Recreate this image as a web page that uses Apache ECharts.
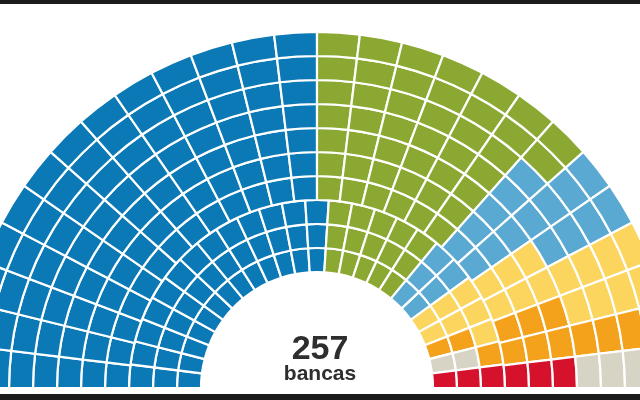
<!DOCTYPE html>
<html>
<head>
<meta charset="utf-8">
<script src="https://cdn.jsdelivr.net/npm/echarts@6/dist/echarts.min.js"></script>
<style>
html,body{margin:0;padding:0;background:#fff;}
#chart{width:640px;height:400px;}
</style>
</head>
<body>
<div id="chart"></div>
<script>
// Parties in seat order (left to right along each row)
const parties = ['Azul', 'Verde', 'Celeste', 'Amarillo', 'Naranja', 'Gris', 'Rojo'];
const partyColors = ['#0a79b6', '#8ba932', '#5aa9d3', '#fbd55e', '#f4a21c', '#d8d4c5', '#d6112c'];
// seats in each row, inner row first
const rowSeats = [25, 25, 25, 26, 26, 26, 26, 26, 26, 26];
// seats per party in each row (same order as parties), inner row first
const seatsByRow = [
  [13, 5, 2, 2, 1, 1, 1],
  [13, 5, 2, 2, 1, 1, 1],
  [13, 5, 2, 3, 1, 0, 1],
  [13, 6, 2, 2, 2, 0, 1],
  [13, 6, 2, 2, 2, 0, 1],
  [13, 6, 2, 2, 2, 0, 1],
  [13, 6, 3, 2, 1, 1, 0],
  [13, 6, 3, 2, 1, 1, 0],
  [13, 7, 2, 2, 1, 1, 0],
  [13, 7, 2, 2, 1, 1, 0]
];
const totalLabel = '257';
const unitLabel = 'bancas';

// Build seat data: [row, angleStart, angleEnd, partyIndex]
const seatData = [];
seatsByRow.forEach(function (counts, row) {
  const n = rowSeats[row];
  const step = 180 / n;
  let j = 0;
  counts.forEach(function (c, p) {
    for (let k = 0; k < c; k++) {
      seatData.push([row, j * step, (j + 1) * step, p]);
      j++;
    }
  });
});

const chart = echarts.init(document.getElementById('chart'));
chart.setOption({
  animation: false,
  backgroundColor: '#ffffff',
  polar: { center: [317, 388], radius: [116, 356] },
  angleAxis: {
    type: 'value', min: 0, max: 360, startAngle: 180, clockwise: true,
    show: false, axisLine: {show: false}, splitLine: {show: false}
  },
  radiusAxis: {
    type: 'value', min: 0, max: rowSeats.length,
    show: false, axisLine: {show: false}, splitLine: {show: false}
  },
  series: [{
    type: 'custom',
    coordinateSystem: 'polar',
    data: seatData,
    renderItem: function (params, api) {
      const row = api.value(0), a0 = api.value(1), a1 = api.value(2), p = api.value(3);
      const cs = params.coordSys;
      const pIn = api.coord([row, a0]);
      const pOut = api.coord([row + 1, a0]);
      const pEnd = api.coord([row, a1]);
      const rIn = Math.hypot(pIn[0] - cs.cx, pIn[1] - cs.cy);
      const rOut = Math.hypot(pOut[0] - cs.cx, pOut[1] - cs.cy);
      let sA = Math.atan2(pIn[1] - cs.cy, pIn[0] - cs.cx);
      let eA = Math.atan2(pEnd[1] - cs.cy, pEnd[0] - cs.cx);
      if (sA > 0) sA -= 2 * Math.PI;
      if (eA > 0) eA -= 2 * Math.PI;
      return {
        type: 'sector',
        shape: { cx: cs.cx, cy: cs.cy, r0: rIn, r: rOut, startAngle: sA, endAngle: eA, clockwise: true },
        style: { fill: partyColors[p], stroke: '#ffffff', lineWidth: 2.2 }
      };
    }
  }],
  graphic: [
    { type: 'rect', shape: { x: 0, y: 0, width: 640, height: 4 }, style: { fill: '#1b1b1b' } },
    { type: 'rect', shape: { x: 0, y: 394, width: 640, height: 6 }, style: { fill: '#1b1b1b' } },
    { type: 'text', left: 'center', top: 333, style: { text: totalLabel, font: 'bold 34px "Liberation Sans", Arial, sans-serif', fill: '#2e2e2e' } },
    { type: 'text', left: 'center', top: 364, style: { text: unitLabel, font: 'bold 21px "Liberation Sans", Arial, sans-serif', fill: '#2e2e2e' } }
  ]
});
</script>
</body>
</html>
